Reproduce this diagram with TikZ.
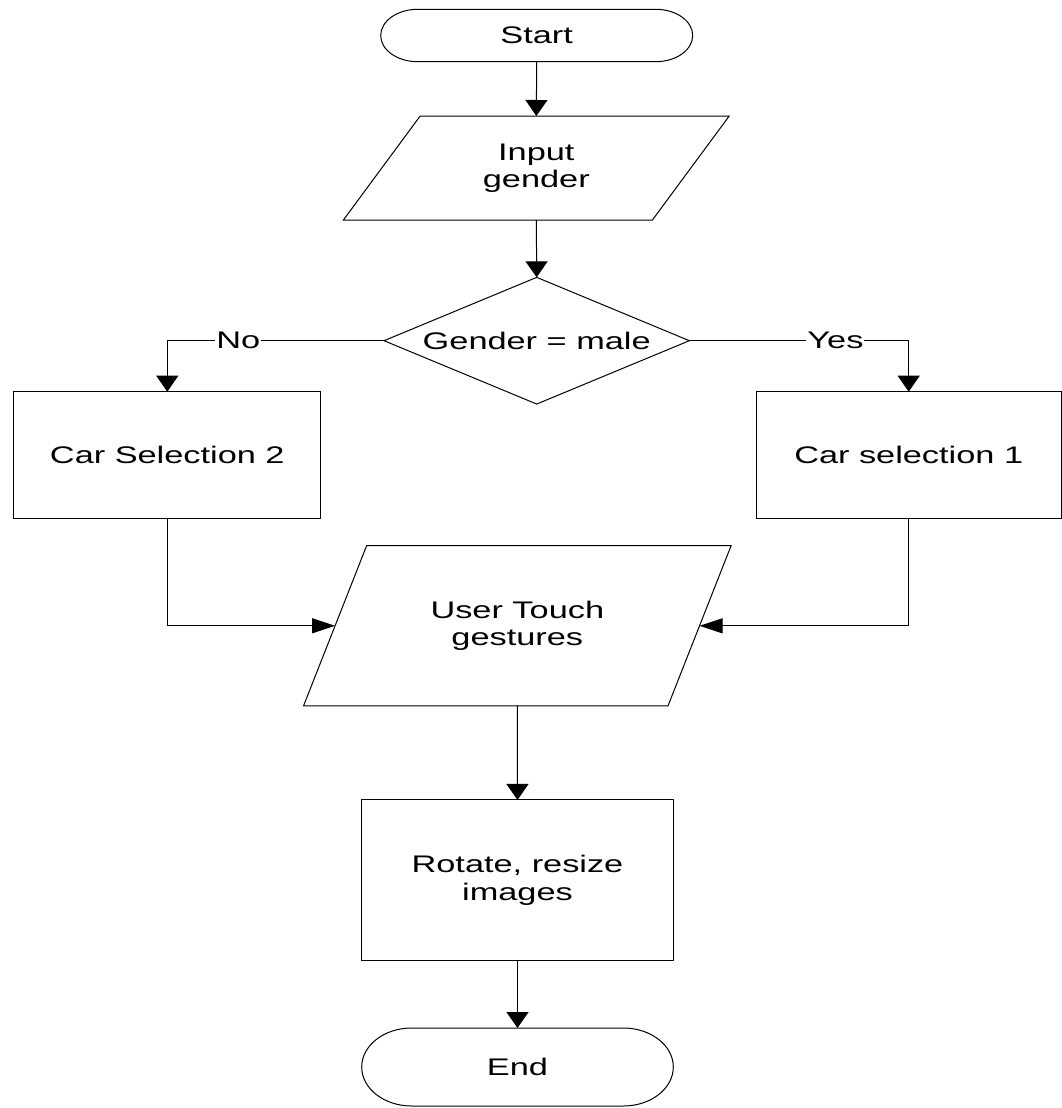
\documentclass[tikz,border=0pt]{standalone}
\usepackage{fontspec}
\setmainfont{Liberation Sans}[FakeStretch=1.43]
\usetikzlibrary{shapes.geometric,arrows.meta}
\begin{document}
\begin{tikzpicture}[x=1pt,y=-1pt,
  every node/.style={font=\fontsize{24}{27.5}\selectfont, inner sep=0pt, outer sep=0pt},
  box/.style={draw, rectangle, align=center, line width=1pt},
  io/.style={draw, trapezium, trapezium stretches=true, align=center, line width=1pt},
  decision/.style={draw, diamond, align=center, line width=1pt},
  term/.style={rectangle, align=center},
  termline/.style={line width=1pt},
  varrow/.style={-{Triangle[length=16pt,width=22pt]}, line width=1pt},
  harrow/.style={-{Triangle[length=23pt,width=15pt]}, line width=1pt},
  lbl/.style={fill=white, inner sep=1pt}
]
\useasboundingbox (0,0) rectangle (1062,1108);

\node[term, minimum width=312pt, minimum height=52.4pt] (start) at (536.7,35.5) {Start};
\draw[termline] ([xshift=37pt]start.north west) -- ([xshift=-37pt]start.north east)
  arc[start angle=90, end angle=-90, x radius=37pt, y radius=26.2pt]
  -- ([xshift=37pt]start.south west)
  arc[start angle=270, end angle=90, x radius=37pt, y radius=26.2pt] -- cycle;

\node[io, minimum width=386pt, minimum height=104pt,
  trapezium left angle=54.2, trapezium right angle=125.8] (input) at (536.3,168) {Input\\gender};

\node[decision, minimum width=305.3pt, minimum height=126.7pt, aspect=2.41] (dec) at (536.7,340.7) {Gender = male};

\node[box, minimum width=306.7pt, minimum height=126.6pt] (cs2) at (167.3,455) {Car Selection 2};
\node[box, minimum width=305.4pt, minimum height=126.6pt] (cs1) at (908.7,455) {Car selection 1};

\node[io, minimum width=427.7pt, minimum height=160.3pt,
  trapezium left angle=53.9, trapezium right angle=126.1] (touch) at (517.3,625.8) {User Touch\\gestures};

\node[box, minimum width=311.6pt, minimum height=160.7pt] (rot) at (517.5,880.3) {Rotate, resize\\images};

\node[term, minimum width=311.6pt, minimum height=78pt] (end) at (517.5,1067) {End};
\draw[termline] ([xshift=50pt]end.north west) -- ([xshift=-50pt]end.north east)
  arc[start angle=90, end angle=-90, x radius=50pt, y radius=39pt]
  -- ([xshift=50pt]end.south west)
  arc[start angle=270, end angle=90, x radius=50pt, y radius=39pt] -- cycle;

\draw[varrow] (start.south) -- (input.north);
\draw[varrow] (input.south) -- (dec.north);
\draw[varrow] (dec.west) -| node[lbl, pos=0.336] {No} (cs2.north);
\draw[varrow] (dec.east) -| node[lbl, pos=0.333] {Yes} (cs1.north);
\draw[harrow] (cs2.south) |- (touch.left side);
\draw[harrow] (cs1.south) |- (touch.right side);
\draw[varrow] (touch.south) -- (rot.north);
\draw[varrow] (rot.south) -- (end.north);
\end{tikzpicture}
\end{document}
